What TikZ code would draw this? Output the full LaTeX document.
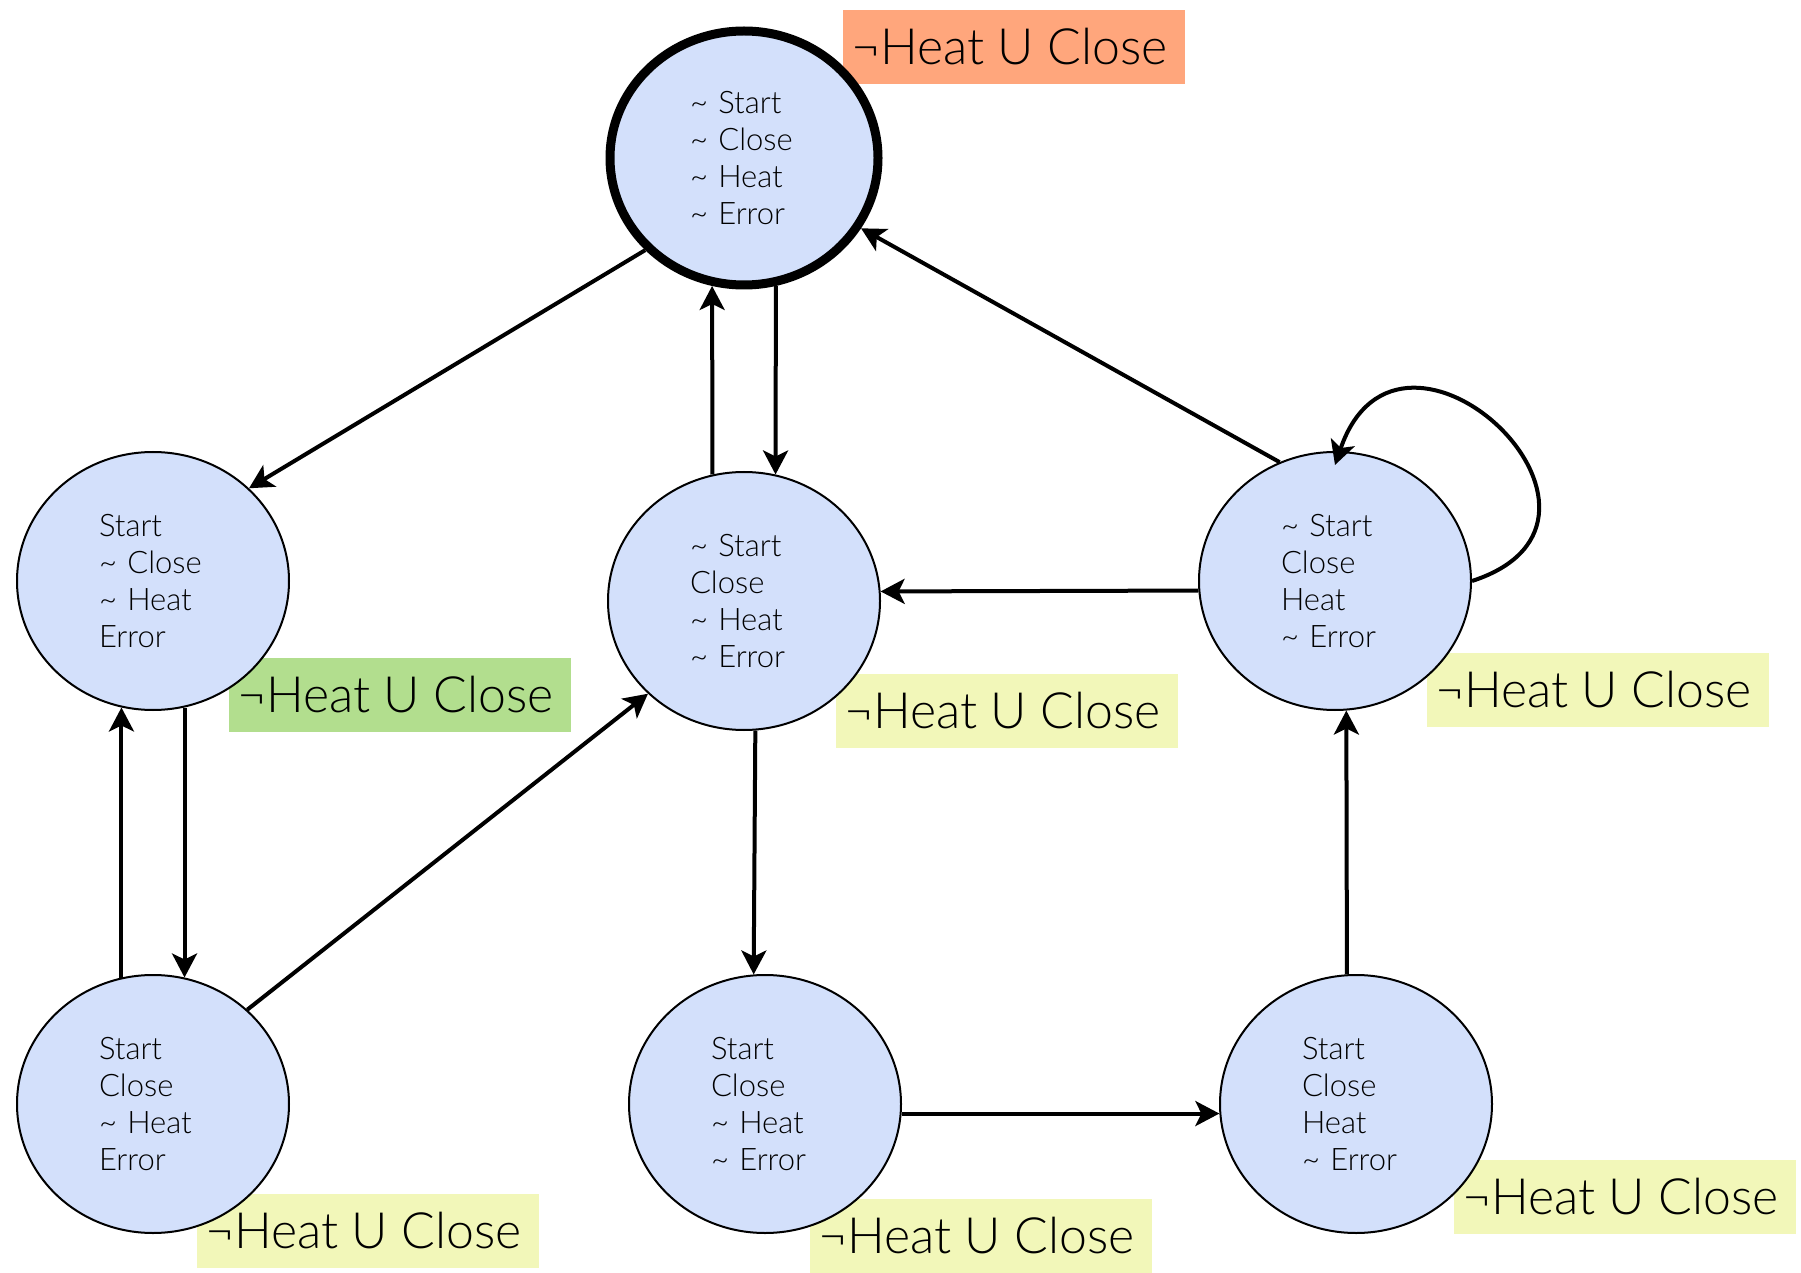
\documentclass[tikz,border=0pt]{standalone}
\usepackage{fontspec}
\setmainfont{Lato Light}
\usetikzlibrary{shapes.geometric,arrows.meta}
\definecolor{statefill}{RGB}{211,224,251}
\definecolor{initfill}{RGB}{255,166,124}
\definecolor{greenfill}{RGB}{178,222,142}
\definecolor{yellowfill}{RGB}{242,247,185}
\newcommand{\tld}{\textasciitilde\ }
\begin{document}
\begin{tikzpicture}[x=0.5pt,y=-0.5pt,
  state/.style={ellipse, draw=black, line width=1pt, fill=statefill,
    minimum width=136pt, minimum height=129pt, inner sep=0pt,
    text width=54pt, align=left, font=\fontsize{15.5}{18.5}\selectfont},
  initstate/.style={state, line width=4.5pt, minimum width=134pt, minimum height=127pt},
  labbox/.style={minimum width=171pt, minimum height=37pt, inner sep=0pt},
  labtext/.style={anchor=west, inner sep=0pt, xshift=4pt, font=\fontsize{25}{30}\selectfont},
  arr/.style={-{Stealth[length=12pt,width=12.5pt,inset=3pt]}, line width=2pt}
]
\useasboundingbox (0,0) rectangle (1801,1273);

% label backgrounds
\node[labbox, fill=initfill]   (bT)  at (1014,47) {};
\node[labbox, fill=greenfill]  (bL)  at (400,695) {};
\node[labbox, fill=yellowfill] (bC)  at (1007,711) {};
\node[labbox, fill=yellowfill] (bR)  at (1598,690) {};
\node[labbox, fill=yellowfill] (bBL) at (368,1231) {};
\node[labbox, fill=yellowfill] (bBC) at (981,1236) {};
\node[labbox, fill=yellowfill] (bBR) at (1625,1197) {};

% states
\node[initstate] (T)  at (744,158)  {\tld Start\\\tld Close\\\tld Heat\\\tld Error};
\node[state]     (L)  at (153,581)  {Start\\\tld Close\\\tld Heat\\Error};
\node[state]     (C)  at (744,601)  {\tld Start\\Close\\\tld Heat\\\tld Error};
\node[state]     (R)  at (1335,581) {\tld Start\\Close\\Heat\\\tld Error};
\node[state]     (BL) at (153,1104) {Start\\Close\\\tld Heat\\Error};
\node[state]     (BC) at (765,1104) {Start\\Close\\\tld Heat\\\tld Error};
\node[state]     (BR) at (1356,1104) {Start\\Close\\Heat\\\tld Error};

% label texts
\node[labtext] (tT)  at (bT.west)  {¬Heat U Close};
\node[labtext] (tL)  at (bL.west)  {¬Heat U Close};
\node[labtext] (tC)  at (bC.west)  {¬Heat U Close};
\node[labtext] (tR)  at (bR.west)  {¬Heat U Close};
\node[labtext] (tBL) at (bBL.west) {¬Heat U Close};
\node[labtext] (tBC) at (bBC.west) {¬Heat U Close};
\node[labtext] (tBR) at (bBR.west) {¬Heat U Close};

% transitions
\draw[arr] (T.223) -- (L.44);
\draw[arr] (C.104) -- (T.256);
\draw[arr] (T.284) -- (C.76);
\draw[arr] (R.115) -- (T.329);
\draw[arr] (R.east) .. controls (1660,520) and (1400,275) .. ([yshift=-7pt]R.north);
\draw[arr] (R.184) -- (C.4);
\draw[arr] (L.284) -- (BL.76);
\draw[arr] (BL.104) -- (L.256);
\draw[arr] (BL.45) -- (C.224);
\draw[arr] (C.275) -- (BC.95);
\draw[arr] (BC.356) -- (BR.184);
\draw[arr] (BR.94) -- (R.275);
\end{tikzpicture}
\end{document}
